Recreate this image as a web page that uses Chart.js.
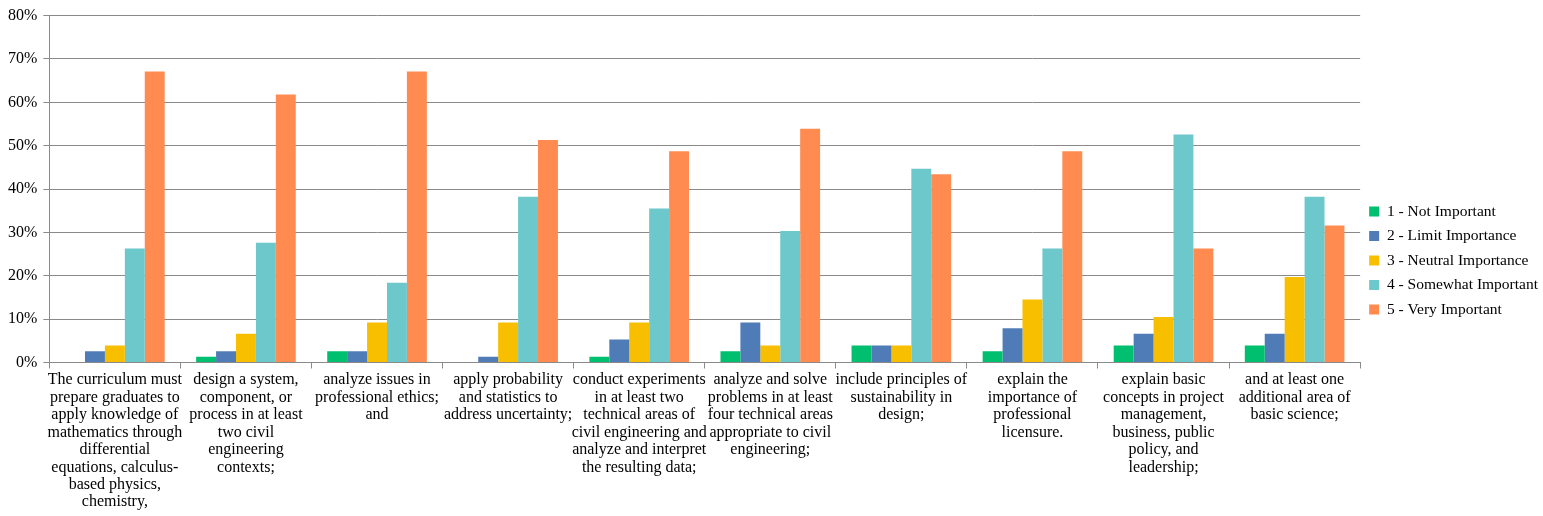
<!DOCTYPE html>
<html>
<head>
<meta charset="utf-8">
<script src="https://cdn.jsdelivr.net/npm/chart.js@4/dist/chart.umd.min.js"></script>
<style>
  html, body { margin: 0; padding: 0; background: #fff; }
  #wrap { width: 1543px; height: 516px; }
</style>
</head>
<body>
<div id="wrap"><canvas id="grafico" width="1543" height="516"></canvas></div>
<script>
// categorias (rótulos do eixo X, já quebrados em linhas)
const categorias = [
  ['The curriculum must', 'prepare graduates to', 'apply knowledge of', 'mathematics through', 'differential', 'equations, calculus-', 'based physics,', 'chemistry,'],
  ['design a system,', 'component, or', 'process in at least', 'two civil', 'engineering', 'contexts;'],
  ['analyze issues in', 'professional ethics;', 'and'],
  ['apply probability', 'and statistics to', 'address uncertainty;'],
  ['conduct experiments', 'in at least two', 'technical areas of', 'civil engineering and', 'analyze and interpret', 'the resulting data;'],
  ['analyze and solve', 'problems in at least', 'four technical areas', 'appropriate to civil', 'engineering;'],
  ['include principles of', 'sustainability in', 'design;'],
  ['explain the', 'importance of', 'professional', 'licensure.'],
  ['explain basic', 'concepts in project', 'management,', 'business, public', 'policy, and', 'leadership;'],
  ['and at least one', 'additional area of', 'basic science;']
];

// valores em %
const naoImportante    = [0,    1.3, 2.6, 0,   1.3, 2.6, 3.9, 2.6, 3.9, 3.9];
const limiteImport     = [2.6,  2.6, 2.6, 1.3, 5.3, 9.2, 3.9, 7.9, 6.6, 6.6];
const neutro           = [3.9,  6.6, 9.2, 9.2, 9.2, 3.9, 3.9, 14.5, 10.5, 19.7];
const poucoImportante  = [26.3, 27.6, 18.4, 38.2, 35.5, 30.3, 44.7, 26.3, 52.6, 38.2];
const muitoImportante  = [67.1, 61.8, 67.1, 51.3, 48.7, 53.9, 43.4, 48.7, 26.3, 31.6];

const nomesSeries = ['1 - Not Important', '2 - Limit Importance', '3 - Neutral Importance', '4 - Somewhat Important', '5 - Very Important'];
const cores = ['#00bf6f', '#4f7cb6', '#f8be00', '#6dc8cc', '#ff8b50'];

const fonte = "'Liberation Serif', 'Times New Roman', serif";

const series = [naoImportante, limiteImport, neutro, poucoImportante, muitoImportante];

const ctx = document.getElementById('grafico').getContext('2d');

new Chart(ctx, {
  type: 'bar',
  data: {
    labels: categorias,
    datasets: series.map((d, i) => ({
      label: nomesSeries[i],
      data: d,
      backgroundColor: cores[i],
      borderWidth: 0,
      categoryPercentage: 0.76,
      barPercentage: 1.0
    }))
  },
  options: {
    responsive: false,
    animation: false,
    layout: { padding: { top: 7, right: -5, left: 2, bottom: 2 } },
    plugins: {
      tooltip: { enabled: false },
      legend: {
        position: 'right',
        align: 'center',
        labels: {
          boxWidth: 10,
          boxHeight: 10,
          padding: 9,
          color: '#000',
          font: { family: fonte, size: 15.5 }
        }
      }
    },
    scales: {
      x: {
        grid: {
          display: true,
          drawOnChartArea: false,
          tickLength: 6,
          color: '#8a8a8a',
          offset: true
        },
        border: { color: '#8a8a8a' },
        ticks: {
          color: '#000',
          autoSkip: false,
          maxRotation: 0,
          padding: 3,
          font: { family: fonte, size: 16, lineHeight: 1.09 }
        }
      },
      y: {
        min: 0,
        max: 80,
        grid: { color: '#8a8a8a', tickLength: 6 },
        border: { color: '#8a8a8a' },
        ticks: {
          stepSize: 10,
          color: '#000',
          padding: 6,
          font: { family: fonte, size: 16 },
          callback: v => v + '%'
        }
      }
    }
  }
});
</script>
</body>
</html>
